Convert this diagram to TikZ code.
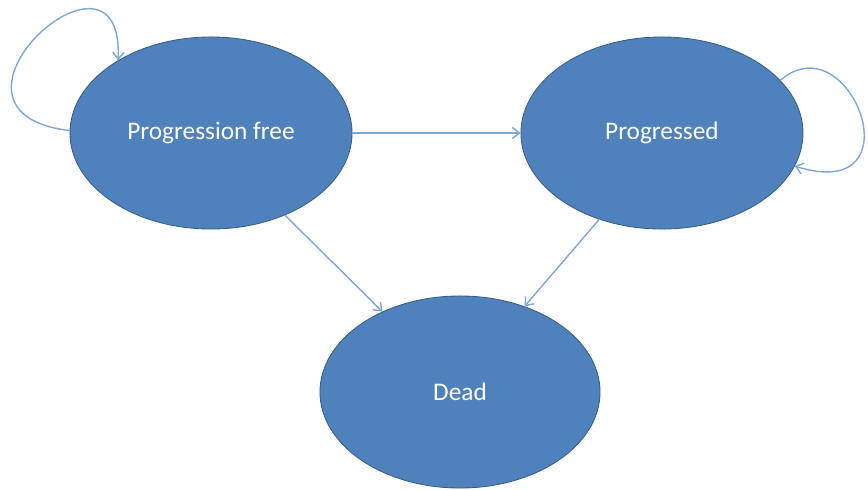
\documentclass[tikz,border=0pt]{standalone}
\usepackage{fontspec}
\setmainfont{Carlito}
\usetikzlibrary{arrows.meta, positioning, shapes.geometric}

\definecolor{statefill}{HTML}{4F81BD}
\definecolor{stateline}{HTML}{385D8A}
\definecolor{linkblue}{HTML}{7EA6D8}

\begin{document}
\begin{tikzpicture}[x=0.025cm, y=-0.025cm,
    state/.style={draw=stateline, line width=0.6pt, ellipse, fill=statefill, text=white,
      minimum width=7.05cm, minimum height=4.8cm, font=\fontsize{18}{22}\selectfont},
    link/.style={draw=linkblue, line width=1pt, -{Straight Barb[length=5pt, width=8pt]}}]
    \useasboundingbox (0,0) rectangle (868,489);
    \node[state] (free) at (211,133) {Progression free};
    \node[state, right=4.2cm of free] (prog) {Progressed};
    \node[state, minimum width=7cm] (dead) at (460,392) {Dead};
    % transitions between states
    \draw[link] (free) -- (prog);
    \draw[link] (free.-48) -- (dead.134);
    \draw[link] (prog.-126) -- (dead.53);
    % staying in the same state
    \draw[link] (free.179) .. controls (-88,112) and (125,-80) .. (free.142);
    \draw[link] (prog.24) .. controls (850,20) and (920,205) .. (prog.-14);
\end{tikzpicture}
\end{document}
